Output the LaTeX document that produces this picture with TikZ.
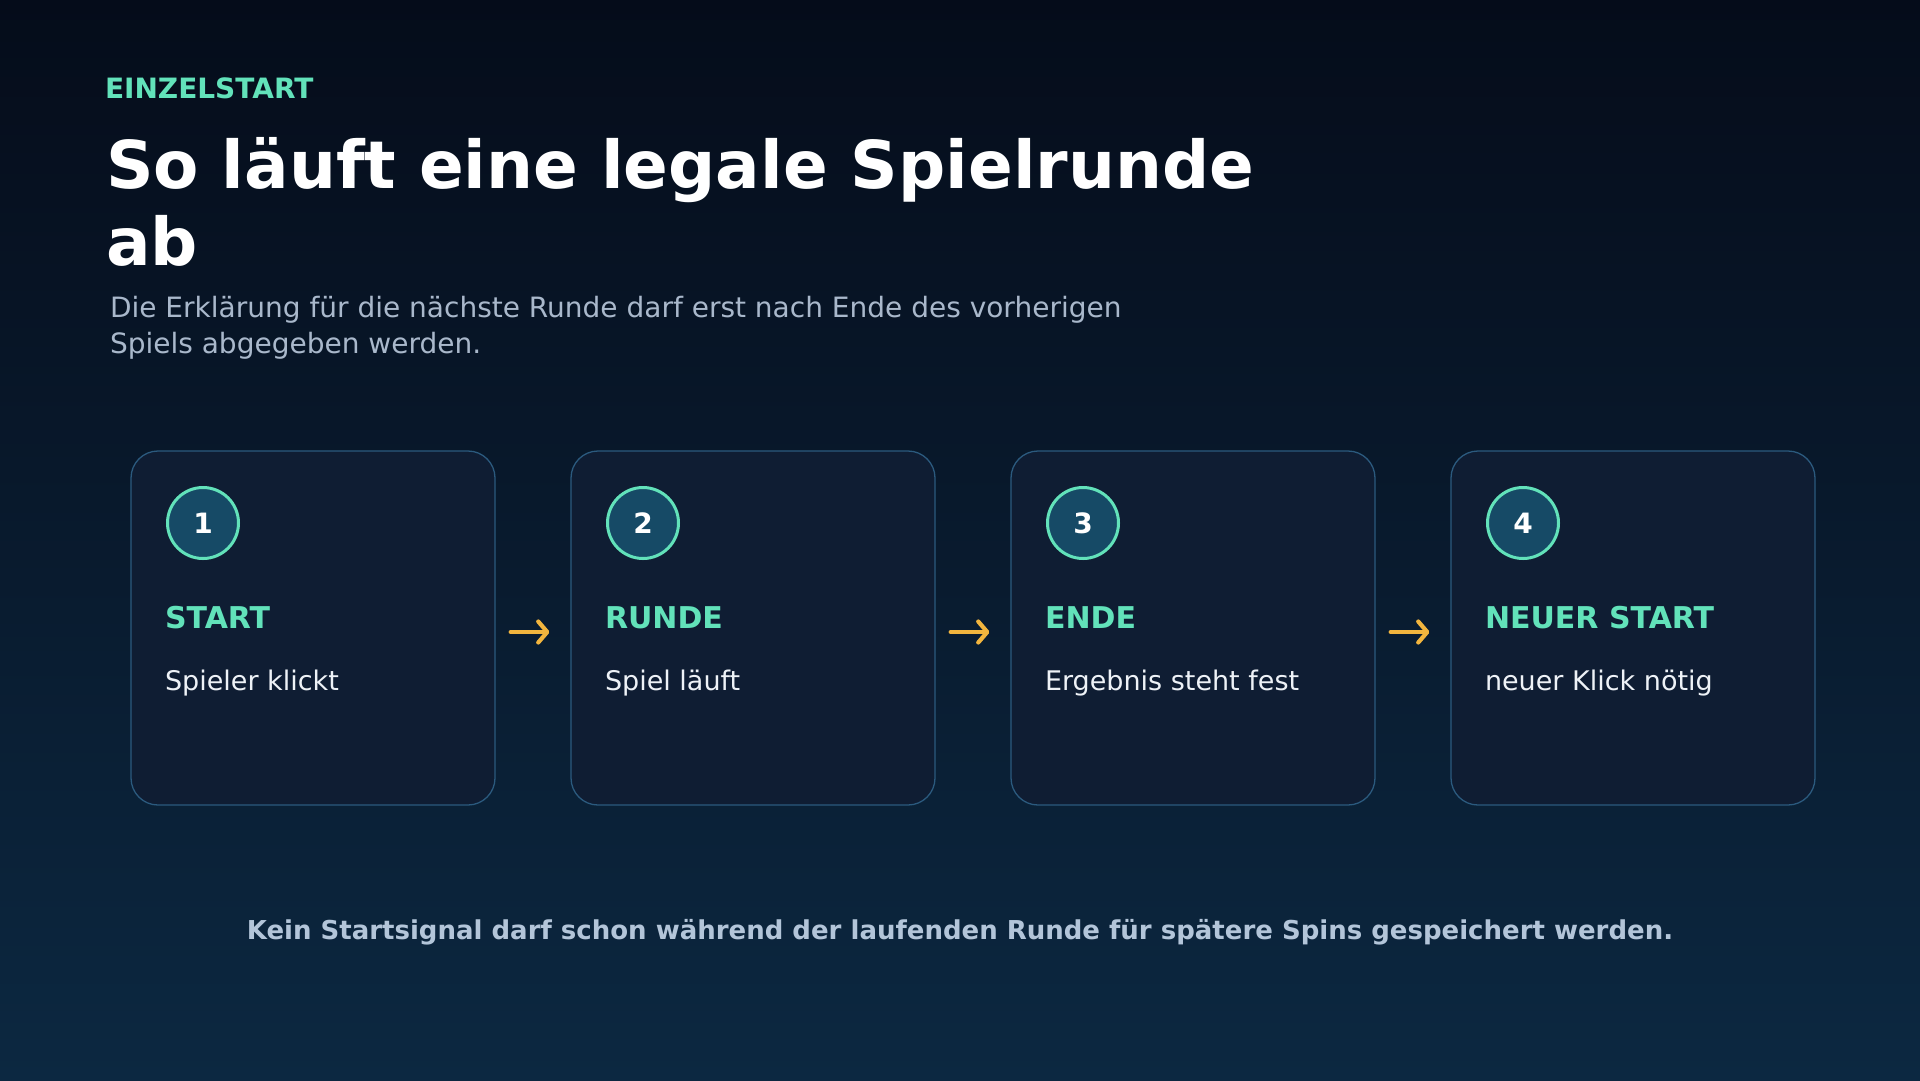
\documentclass[tikz,border=0pt]{standalone}
\usepackage{fontspec}
\setmainfont{DejaVu Sans}
\usetikzlibrary{arrows.meta}
\definecolor{bgtop}{HTML}{050C1A}
\definecolor{bgbot}{HTML}{0C2841}
\definecolor{cardfill}{HTML}{0F1D33}
\definecolor{cardline}{HTML}{2B5A7E}
\definecolor{accent}{HTML}{62E2BA}
\definecolor{numfill}{HTML}{164A66}
\definecolor{arrowc}{HTML}{F2B53E}
\definecolor{subc}{HTML}{A9B8CB}
\definecolor{footc}{HTML}{B3C5D9}
\definecolor{bodyc}{HTML}{EEF2F7}
\tikzset{
  txt/.style={anchor=base west, inner sep=0pt, outer sep=0pt},
  card/.style={draw=cardline, line width=1.3pt, fill=cardfill, rounded corners=27pt,
    minimum width=364pt, minimum height=354pt, inner sep=0pt},
  numcirc/.style={circle, draw=accent, line width=3pt, fill=numfill, minimum size=71pt,
    inner sep=0pt, text=white, font=\fontsize{28}{32}\selectfont\bfseries},
  stephead/.style={txt, text=accent, font=\fontsize{30}{34}\selectfont\bfseries},
  stepbody/.style={txt, text=bodyc, font=\fontsize{27}{30}\selectfont},
  flowarrow/.style={draw=arrowc, line width=4.2pt, line cap=round,
    -{Straight Barb[length=9pt,width=21pt,line cap=round,line join=round]}}
}
\begin{document}
\begin{tikzpicture}[x=1pt,y=-1pt]
\useasboundingbox (0,0) rectangle (1920,1080);
\shade[top color=bgtop, bottom color=bgbot] (0,0) rectangle (1920,1080);

\node[txt, text=accent, font=\fontsize{28}{32}\selectfont\bfseries] (kicker) at (105,98) {EINZELSTART};
\node[txt, text=white, font=\fontsize{66}{77}\selectfont\bfseries] (title1) at (106,188) {So läuft eine legale Spielrunde};
\node[txt, text=white, font=\fontsize{66}{77}\selectfont\bfseries] (title2) at (106,265) {ab};
\node[txt, text=subc, font=\fontsize{28}{36}\selectfont] (sub1) at (110,317) {Die Erklärung für die nächste Runde darf erst nach Ende des vorherigen};
\node[txt, text=subc, font=\fontsize{28}{36}\selectfont] (sub2) at (110,353) {Spiels abgegeben werden.};

\foreach \h/\b [count=\n] in {START/Spieler klickt, RUNDE/Spiel läuft, ENDE/Ergebnis steht fest, NEUER START/neuer Klick nötig}{
  \pgfmathsetmacro{\xl}{131+(\n-1)*440}
  \node[card] (c\n) at (\xl+182,628) {};
  \node[numcirc] (n\n) at (\xl+72,523) {\n};
  \node[stephead] (h\n) at (\xl+34,628) {\h};
  \node[stepbody] (d\n) at (\xl+34,690) {\b};
}
\foreach \a/\b in {1/2,2/3,3/4}{
  \draw[flowarrow, shorten <=15pt, shorten >=21pt] ([yshift=-4pt]c\a.east) -- ([yshift=-4pt]c\b.west);
}

\node[anchor=base, inner sep=0pt, text=footc, font=\fontsize{26}{30}\selectfont\bfseries] (foot) at (960,939)
  {Kein Startsignal darf schon während der laufenden Runde für spätere Spins gespeichert werden.};
\end{tikzpicture}
\end{document}
